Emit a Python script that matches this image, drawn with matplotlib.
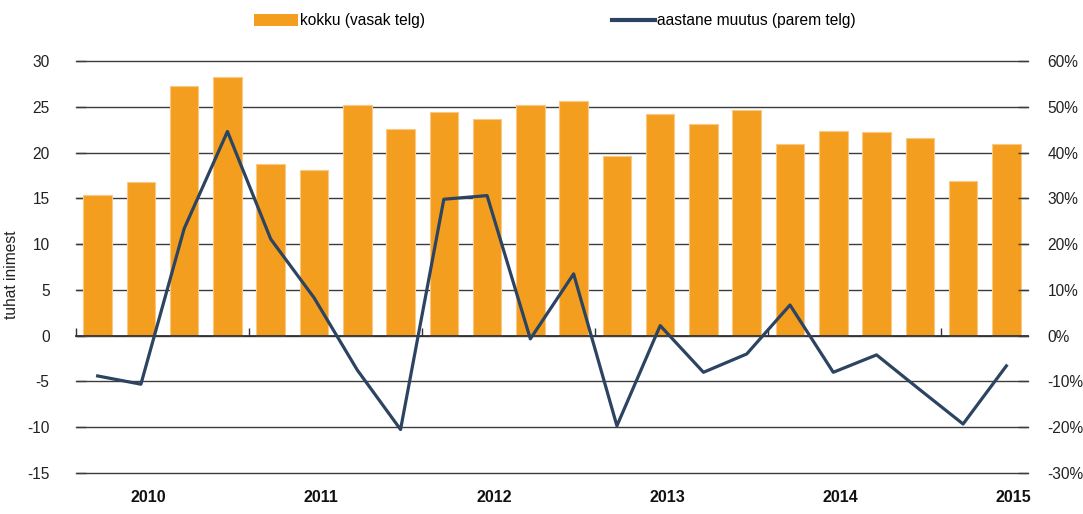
import numpy as np
import matplotlib.pyplot as plt
from matplotlib.patches import Patch
from matplotlib.lines import Line2D
from matplotlib.ticker import FuncFormatter
import matplotlib.transforms as mtransforms

plt.rcParams['font.family'] = ['Liberation Sans', 'DejaVu Sans']
plt.rcParams['axes.unicode_minus'] = False

# Data (quarterly, 2010 Q1 .. 2015 Q2)
years = ['2010', '2011', '2012', '2013', '2014', '2015']
quarters = ['2010 I', '2010 II', '2010 III', '2010 IV',
            '2011 I', '2011 II', '2011 III', '2011 IV',
            '2012 I', '2012 II', '2012 III', '2012 IV',
            '2013 I', '2013 II', '2013 III', '2013 IV',
            '2014 I', '2014 II', '2014 III', '2014 IV',
            '2015 I', '2015 II']
kokku = [15.4, 16.8, 27.3, 28.2, 18.8, 18.1, 25.2, 22.6, 24.4, 23.7, 25.2,
         25.6, 19.6, 24.2, 23.1, 24.6, 20.9, 22.4, 22.2, 21.6, 16.9, 20.9]
muutus = [-8.8, -10.6, 23.4, 44.6, 21.1, 8.3, -7.5, -20.5, 29.8, 30.6, -0.7,
          13.5, -19.7, 2.2, -8.0, -4.0, 6.7, -8.0, -4.2, -11.8, -19.3, -6.6]

orange = '#F39E1E'
navy = '#2C4461'
grid_c = '#3c3c3c'
fs = 11.2

x = np.arange(len(quarters))

fig = plt.figure(figsize=(10.83, 5.14), dpi=100)
ax = fig.add_axes([76/1083, 1 - 473/514, (1028 - 76)/1083, (473 - 61)/514])

ax.bar(x, kokku, width=0.66, color=orange, edgecolor='#F7C887', linewidth=0.8, zorder=2)
ax.set_xlim(-0.5, len(quarters) - 0.5)
ax.set_ylim(-15, 30)
ax.set_yticks(np.arange(-15, 31, 5))
ax.grid(axis='y', color=grid_c, linewidth=1.0, zorder=0)
ax.set_axisbelow(True)
for gl in ax.get_ygridlines():
    gl.set_clip_on(False)

for s in ['top', 'left', 'right']:
    ax.spines[s].set_visible(False)
ax.spines['bottom'].set_position(('data', 0))
ax.spines['bottom'].set_color('#333333')
ax.spines['bottom'].set_linewidth(1.3)
ax.spines['bottom'].set_zorder(3)

ax.set_xticks(np.arange(-0.5, len(quarters) - 1, 4))
ax.tick_params(axis='x', direction='in', length=6, width=1, color='#333333', labelbottom=False)
ax.tick_params(axis='y', direction='in', length=7, width=1, color=grid_c,
               labelsize=fs, pad=19, labelcolor='#222222')
ax.set_ylabel('tuhat inimest', fontsize=fs, color='#222222')
ax.yaxis.set_label_coords((19 - 76) / 952, 0.48)

# year labels below the chart
trans = mtransforms.blended_transform_factory(ax.transData, fig.transFigure)
for k, yr in enumerate(years):
    ax.text(4 * k + 1.17, 1 - 497/514, yr, transform=trans, ha='center', va='center',
            fontsize=fs + 0.3, fontweight='bold', color='#111111')

ax2 = ax.twinx()
ax2.plot(x, np.array(muutus) / 100, color=navy, linewidth=2.3, zorder=4)
ax2.set_ylim(-0.30, 0.60)
ax2.set_yticks(np.arange(-0.30, 0.61, 0.10))
ax2.yaxis.set_major_formatter(FuncFormatter(lambda v, p: f'{v*100:.0f}%'))
for s in ['top', 'left', 'right', 'bottom']:
    ax2.spines[s].set_visible(False)
ax2.tick_params(axis='y', direction='in', length=7, width=1, color=grid_c,
                labelsize=fs, pad=14, labelcolor='#222222')

handles = [Patch(facecolor=orange, edgecolor='none'),
           Line2D([0], [0], color=navy, linewidth=3)]
fig.legend(handles, ['kokku (vasak telg)', 'aastane muutus (parem telg)'],
           loc='center', bbox_to_anchor=(555/1083, 1 - 21/514), ncol=2, frameon=False,
           fontsize=fs, handlelength=2.8, handleheight=0.8, handletextpad=0.15,
           columnspacing=12.0, borderpad=0)

fig.savefig('out.png', dpi=100)
